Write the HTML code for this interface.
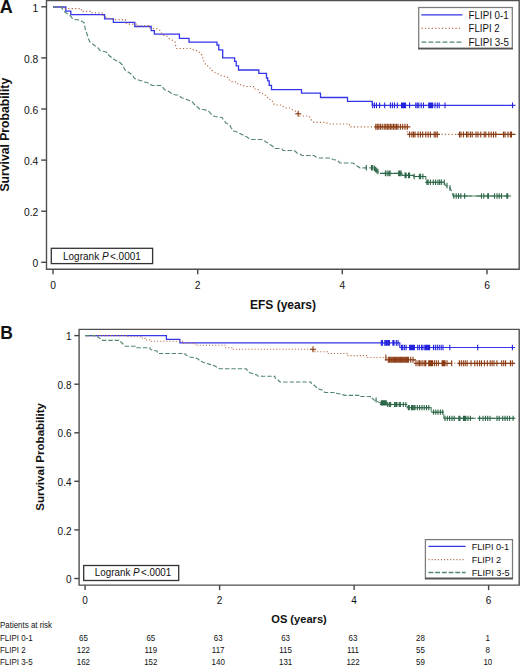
<!DOCTYPE html>
<html><head><meta charset="utf-8"><style>
html,body{margin:0;padding:0;background:#fff;}
body{width:520px;height:666px;overflow:hidden;}
svg{display:block;font-family:"Liberation Sans", sans-serif;}
text{fill:#111;}
</style></head><body>
<svg width="520" height="666" viewBox="0 0 520 666">
<path d="M46.5 269.3V0.5H519.2V269.3Z" fill="none" stroke="#505050" stroke-width="1.4"/>
<line x1="41.2" y1="6.8" x2="46.5" y2="6.8" stroke="#444" stroke-width="1.4" />
<text x="38.3" y="11.8" font-size="10.3" text-anchor="end" font-weight="normal" >1</text>
<line x1="41.2" y1="57.9" x2="46.5" y2="57.9" stroke="#444" stroke-width="1.4" />
<text x="38.3" y="62.9" font-size="10.3" text-anchor="end" font-weight="normal" >0.8</text>
<line x1="41.2" y1="109.0" x2="46.5" y2="109.0" stroke="#444" stroke-width="1.4" />
<text x="38.3" y="114.0" font-size="10.3" text-anchor="end" font-weight="normal" >0.6</text>
<line x1="41.2" y1="160.1" x2="46.5" y2="160.1" stroke="#444" stroke-width="1.4" />
<text x="38.3" y="165.1" font-size="10.3" text-anchor="end" font-weight="normal" >0.4</text>
<line x1="41.2" y1="211.2" x2="46.5" y2="211.2" stroke="#444" stroke-width="1.4" />
<text x="38.3" y="216.2" font-size="10.3" text-anchor="end" font-weight="normal" >0.2</text>
<line x1="41.2" y1="262.3" x2="46.5" y2="262.3" stroke="#444" stroke-width="1.4" />
<text x="38.3" y="267.3" font-size="10.3" text-anchor="end" font-weight="normal" >0</text>
<line x1="53.0" y1="269.3" x2="53.0" y2="274.3" stroke="#444" stroke-width="1.4" />
<text x="53.0" y="289" font-size="10.3" text-anchor="middle" font-weight="normal" >0</text>
<line x1="197.7" y1="269.3" x2="197.7" y2="274.3" stroke="#444" stroke-width="1.4" />
<text x="197.7" y="289" font-size="10.3" text-anchor="middle" font-weight="normal" >2</text>
<line x1="342.3" y1="269.3" x2="342.3" y2="274.3" stroke="#444" stroke-width="1.4" />
<text x="342.3" y="289" font-size="10.3" text-anchor="middle" font-weight="normal" >4</text>
<line x1="487.0" y1="269.3" x2="487.0" y2="274.3" stroke="#444" stroke-width="1.4" />
<text x="487.0" y="289" font-size="10.3" text-anchor="middle" font-weight="normal" >6</text>
<text x="283" y="309.3" font-size="12" text-anchor="middle" font-weight="bold" >EFS (years)</text>
<text transform="translate(8.5 134.7) rotate(-90)" font-size="12.2" font-weight="bold" text-anchor="middle">Survival Probability</text>
<text x="-0.3" y="12.8" font-size="18" text-anchor="start" font-weight="bold" >A</text>
<rect x="51.3" y="248.3" width="101.3" height="15.3" fill="#fff" stroke="#333" stroke-width="1.3"/>
<text x="63" y="259.6" font-size="10">Logrank <tspan font-style="italic">P</tspan><tspan dx="1.4">&lt;.0001</tspan></text>
<rect x="418.7" y="7.5" width="93.6" height="40.9" fill="#fff" stroke="#7a7a7a" stroke-width="1.25"/>
<path d="M418.2 48.6H512.9" stroke="#555" stroke-width="1.8"/>
<path d="M421.3 14.8H462.5" stroke="#3535ea" stroke-width="1.3" fill="none"/>
<path d="M421.5 28.4H462" stroke="#b46e48" stroke-width="1.2" stroke-dasharray="1.2 2.2" fill="none"/>
<path d="M421.5 42.1H462" stroke="#52866f" stroke-width="1.4" stroke-dasharray="4.9 2.1" fill="none"/>
<text x="468.6" y="18.8" font-size="10.2" text-anchor="start" font-weight="normal" textLength="40" lengthAdjust="spacingAndGlyphs">FLIPI 0-1</text>
<text x="468.6" y="32.3" font-size="10.2" text-anchor="start" font-weight="normal" textLength="31" lengthAdjust="spacingAndGlyphs">FLIPI 2</text>
<text x="468.6" y="45.7" font-size="10.2" text-anchor="start" font-weight="normal" textLength="40.5" lengthAdjust="spacingAndGlyphs">FLIPI 3-5</text>
<path d="M53 7H65.8V11.1H70.8V14.6H104.6V18.8H113.4V22.3H134.8V26.5H151.2V30.6H154.4V34.1H179.4V38.3H189V42.1H217V45H218.8V49.8H222.7V57.9H234.6V61.3H236.2V65.8H238.5V70H258.8V73.4H266.5V78H267.7V80.8H269.2V85.4H271.5V89.6H301.5V93.2H320.5V97.5H347.5V101.3H372.2V105.3H515.5V105.3" stroke="#3535ea" stroke-width="1.3" fill="none"  />
<path d="M372.7 102.39999999999999V108.2M374.5 102.39999999999999V108.2M376.5 102.39999999999999V108.2M379.6 102.39999999999999V108.2M384.7 102.39999999999999V108.2M390.4 102.39999999999999V108.2M392.4 102.39999999999999V108.2M394.5 102.39999999999999V108.2M397.3 102.39999999999999V108.2M401.5 102.39999999999999V108.2M402.5 102.39999999999999V108.2M403.5 102.39999999999999V108.2M404.5 102.39999999999999V108.2M405.5 102.39999999999999V108.2M409.6 102.39999999999999V108.2M415.8 102.39999999999999V108.2M417.3 102.39999999999999V108.2M418.8 102.39999999999999V108.2M421.2 102.39999999999999V108.2M423.5 102.39999999999999V108.2M428.8 102.39999999999999V108.2M429.8 102.39999999999999V108.2M430.8 102.39999999999999V108.2M431.8 102.39999999999999V108.2M432.7 102.39999999999999V108.2M435 102.39999999999999V108.2M437.3 102.39999999999999V108.2M439.2 102.39999999999999V108.2M445 102.39999999999999V108.2M512.5 102.39999999999999V108.2" stroke="#2323dd" stroke-width="1.1" fill="none"/>
<path d="M53 7H65V8.7H81.5V11.3H90.3V12.8H103V15.4L106 17.2L113 19.7H125.4V22L127.3 24.2H137.9V25.9H148.5V26.8L150 28.2L157 28.8L159.5 30L161 31.7L162 34.4L164 35.5L167 36.2L168 38L171 39.5L173 40.5L175 42L175.5 45L176.5 48.5H191V49L194 50L196.5 50.5L199 52L201 53.5L202.5 56L203 60L205 63L206 65.5L208.5 66L210 68L212 70.5L215 72.5L218 73.7L220 75L222 76L226 76.5L228 77.5L229 79L230.5 81.5L237 82L238 84.5L242 85L245 86.5H253.5V86.5L254 89L257.5 89L259 90.5L260 93.5L263.5 93.5L265 95L267 96.5L268 99L271 99.5L272.5 101.5L273 103.5L275.5 105L282 105L283.5 107L286.5 108L290 108L291.5 109.5L294 110L297 112.5L298 113.6L300 116H309V116.3L310.5 118L311.5 120.5L314 122.3H326V122.3L328 124H349.5V124.2L349.5 126.8H407.3V126.8H407.3V134.4H515.5V134.4" stroke="#b46e48" stroke-width="1.2" fill="none" stroke-dasharray="1.2 2.2" />
<path d="M374.5 126.8H410.4" stroke="#8a3a12" stroke-width="1.2" fill="none"/>
<path d="M407.3 134.4H440" stroke="#8a3a12" stroke-width="1.2" fill="none"/>
<path d="M457.5 134.4H515.5" stroke="#8a3a12" stroke-width="1.2" fill="none"/>
<path d="M298.2 110.8V116.8" stroke="#8a3a12" stroke-width="1.1" fill="none"/>
<path d="M295.2 113.8H301.2" stroke="#8a3a12" stroke-width="1.1" fill="none"/>
<path d="M375.8 123.8V129.8M377.3 123.8V129.8M378.8 123.8V129.8M380.4 123.8V129.8M382.2 123.8V129.8M384.2 123.8V129.8M385.8 123.8V129.8M387.3 123.8V129.8M388.8 123.8V129.8M390.4 123.8V129.8M391.9 123.8V129.8M393.5 123.8V129.8M395 123.8V129.8M396.5 123.8V129.8M398 123.8V129.8M400.4 123.8V129.8M402.7 123.8V129.8M405 123.8V129.8M407.3 123.8V129.8" stroke="#8a3a12" stroke-width="1.1" fill="none"/>
<path d="M409.6 131.4V137.4M411.9 131.4V137.4M413.5 131.4V137.4M415 131.4V137.4M418.1 131.4V137.4M420.4 131.4V137.4M422.7 131.4V137.4M425.8 131.4V137.4M428.1 131.4V137.4M430.4 131.4V137.4M434.2 131.4V137.4M435.8 131.4V137.4M437.3 131.4V137.4M459.5 131.4V137.4M461 131.4V137.4M463.5 131.4V137.4M466.5 131.4V137.4M468 131.4V137.4M470.4 131.4V137.4M472.2 131.4V137.4M476 131.4V137.4M478 131.4V137.4M480.8 131.4V137.4M484.2 131.4V137.4M485.8 131.4V137.4M488.8 131.4V137.4M491.2 131.4V137.4M493.5 131.4V137.4M495.8 131.4V137.4M503.5 131.4V137.4M505 131.4V137.4M508 131.4V137.4M510.4 131.4V137.4M511.5 131.4V137.4" stroke="#8a3a12" stroke-width="1.1" fill="none"/>
<path d="M53 7H61V7L62 8.5L63.5 10L65 12L67 13.5L69 14.5L70.5 16L72 18L74 19.5L77 19.8L80 20L82 21.5L84 22.5L84.5 25L85 27.5L85.5 30.5L86.5 32.5L87.5 35.5L88 38L89 40L90 42L92 43.5L94 45L96 46.5L98 48L100 50.5L104 51.5L106 52L108 53.5L109 55.5L111 57L113 58.5L115 60L117 61L119 62L120.5 63L122 64.5L123.5 66L124 68L125 70L127 71.5L129 72.5L131 74L133 76L134.5 78.5L137 79.5L140 80.5L142 81L144 82L147 82.5L150 84L152 85.5L156 85.5L161 85.5L162 86.5L164 89L166 90.5L169 91.5L171 93L174 94.5L176 95L178 95L180 96.5L182 98L185 98.5L188 100L191 101.5L192.5 102L194 104L196 106L198 107.5L200 109.5L204 109.5L207 110.5L209.5 112L211 114L213 115.5L215 116.5L218 117L222 117.5L223 119L224.5 121L226 123L228 124L230 125.5L231 127.5L232 129L233 131L236 131.5L238 132.5L241 134L244 135.5L247 137L249 138.5L251 139.5L256 139.5L262 139.5L264 140.5L266 142L268 143L270 144.5L273 146.5L275 148.5L280 148.5L282 149L283 150.5L289 150.5L294 150.5L295 151L297 153L300 154L302 155.5L308 155.5L314 155.5L316 157L318 158L325 158L331 158L333 159.5L336 160L338 161L340 163L347 163L353 163L355 164.5L357 166L360 167.8L366 167.8L373 167.8L374.4 168.5L375.6 169.5L376.7 170.5L377.9 171.5L380 173.4L386 173.4H402V173.4L402 175.4H413.6V175.4L413.6 176.5H425.8V176.5L425.8 182.3H444.6V182.3L445 185L448 186.5L450 188L451 190L452 192L453 196H510.8V196" stroke="#52866f" stroke-width="1.15" fill="none" stroke-dasharray="4.6 2.1" />
<path d="M366.3 165.0V170.60000000000002M371.5 165.0V170.60000000000002M372.7 165.0V170.60000000000002" stroke="#2d6647" stroke-width="1.1" fill="none"/>
<path d="M374.4 165.7V171.3" stroke="#2d6647" stroke-width="1.1" fill="none"/>
<path d="M375.6 166.7V172.3" stroke="#2d6647" stroke-width="1.1" fill="none"/>
<path d="M376.7 167.7V173.3" stroke="#2d6647" stroke-width="1.1" fill="none"/>
<path d="M377.9 168.7V174.3" stroke="#2d6647" stroke-width="1.1" fill="none"/>
<path d="M385.4 170.6V176.20000000000002M387.1 170.6V176.20000000000002M388.8 170.6V176.20000000000002M390 170.6V176.20000000000002M398.7 170.6V176.20000000000002M399.8 170.6V176.20000000000002M401 170.6V176.20000000000002" stroke="#2d6647" stroke-width="1.1" fill="none"/>
<path d="M405 172.6V178.20000000000002M406.1 172.6V178.20000000000002M408.5 172.6V178.20000000000002M409.6 172.6V178.20000000000002" stroke="#2d6647" stroke-width="1.1" fill="none"/>
<path d="M414.2 173.7V179.3M419.4 173.7V179.3M420.6 173.7V179.3M422.9 173.7V179.3" stroke="#2d6647" stroke-width="1.1" fill="none"/>
<path d="M426.9 179.5V185.10000000000002M428.1 179.5V185.10000000000002M430.4 179.5V185.10000000000002M433.3 179.5V185.10000000000002M435.6 179.5V185.10000000000002M437.9 179.5V185.10000000000002M439.6 179.5V185.10000000000002M441.3 179.5V185.10000000000002M444.2 179.5V185.10000000000002" stroke="#2d6647" stroke-width="1.1" fill="none"/>
<path d="M447 182.7V188.3" stroke="#2d6647" stroke-width="1.1" fill="none"/>
<path d="M450 185.2V190.8" stroke="#2d6647" stroke-width="1.1" fill="none"/>
<path d="M453.8 193.2V198.8M456.2 193.2V198.8M458.5 193.2V198.8M460.8 193.2V198.8M464.6 193.2V198.8M481.5 193.2V198.8M483.8 193.2V198.8M487.7 193.2V198.8M488.5 193.2V198.8M494.6 193.2V198.8M497 193.2V198.8M499.2 193.2V198.8M501.5 193.2V198.8M506.9 193.2V198.8M507.7 193.2V198.8" stroke="#2d6647" stroke-width="1.1" fill="none"/>
<path d="M380 173.4H402" stroke="#2d6647" stroke-width="1.1" fill="none"/>
<path d="M402 175.4H413.6" stroke="#2d6647" stroke-width="1.1" fill="none"/>
<path d="M413.6 176.5H425.8" stroke="#2d6647" stroke-width="1.1" fill="none"/>
<path d="M425.8 182.3H444.6" stroke="#2d6647" stroke-width="1.1" fill="none"/>
<path d="M453 196H471.5" stroke="#2d6647" stroke-width="1.1" fill="none"/>
<path d="M474.6 196H510.8" stroke="#2d6647" stroke-width="1.1" fill="none"/>
<path d="M79.1 585.1V329.4H519.2V585.1Z" fill="none" stroke="#505050" stroke-width="1.4"/>
<line x1="74.3" y1="335.6" x2="79.1" y2="335.6" stroke="#444" stroke-width="1.4" />
<text x="71.5" y="340.20000000000005" font-size="10" text-anchor="end" font-weight="normal" >1</text>
<line x1="74.3" y1="384.2" x2="79.1" y2="384.2" stroke="#444" stroke-width="1.4" />
<text x="71.5" y="388.8" font-size="10" text-anchor="end" font-weight="normal" >0.8</text>
<line x1="74.3" y1="432.8" x2="79.1" y2="432.8" stroke="#444" stroke-width="1.4" />
<text x="71.5" y="437.40000000000003" font-size="10" text-anchor="end" font-weight="normal" >0.6</text>
<line x1="74.3" y1="481.3" x2="79.1" y2="481.3" stroke="#444" stroke-width="1.4" />
<text x="71.5" y="485.90000000000003" font-size="10" text-anchor="end" font-weight="normal" >0.4</text>
<line x1="74.3" y1="529.9" x2="79.1" y2="529.9" stroke="#444" stroke-width="1.4" />
<text x="71.5" y="534.5" font-size="10" text-anchor="end" font-weight="normal" >0.2</text>
<line x1="74.3" y1="578.5" x2="79.1" y2="578.5" stroke="#444" stroke-width="1.4" />
<text x="71.5" y="583.1" font-size="10" text-anchor="end" font-weight="normal" >0</text>
<line x1="85.1" y1="585.1" x2="85.1" y2="590.1" stroke="#444" stroke-width="1.4" />
<text x="85.1" y="604" font-size="10" text-anchor="middle" font-weight="normal" >0</text>
<line x1="219.6" y1="585.1" x2="219.6" y2="590.1" stroke="#444" stroke-width="1.4" />
<text x="219.6" y="604" font-size="10" text-anchor="middle" font-weight="normal" >2</text>
<line x1="354.1" y1="585.1" x2="354.1" y2="590.1" stroke="#444" stroke-width="1.4" />
<text x="354.1" y="604" font-size="10" text-anchor="middle" font-weight="normal" >4</text>
<line x1="488.6" y1="585.1" x2="488.6" y2="590.1" stroke="#444" stroke-width="1.4" />
<text x="488.6" y="604" font-size="10" text-anchor="middle" font-weight="normal" >6</text>
<text x="299" y="623.4" font-size="11.1" text-anchor="middle" font-weight="bold" >OS (years)</text>
<text transform="translate(43.8 456.9) rotate(-90)" font-size="11.55" font-weight="bold" text-anchor="middle">Survival Probability</text>
<text x="0.3" y="338.8" font-size="17.5" text-anchor="start" font-weight="bold" >B</text>
<rect x="83.7" y="565.5" width="95" height="15" fill="#fff" stroke="#333" stroke-width="1.3"/>
<text x="94.8" y="576.3" font-size="10" textLength="76.5" lengthAdjust="spacingAndGlyphs">Logrank <tspan font-style="italic">P</tspan><tspan dx="1.4">&lt;.0001</tspan></text>
<rect x="425.4" y="539.6" width="87.1" height="38.6" fill="#fff" stroke="#7a7a7a" stroke-width="1.25"/>
<path d="M424.9 578.6H513" stroke="#555" stroke-width="1.9"/>
<path d="M428.5 546.4H465.6" stroke="#3535ea" stroke-width="1.2" fill="none"/>
<path d="M428.5 559.6H465.6" stroke="#b46e48" stroke-width="1.05" stroke-dasharray="1.1 2.0" fill="none"/>
<path d="M428.5 572.5H465.6" stroke="#52866f" stroke-width="1.3" stroke-dasharray="4.9 1.8" fill="none"/>
<text x="471.7" y="550.4" font-size="9.7" text-anchor="start" font-weight="normal" textLength="37.5" lengthAdjust="spacingAndGlyphs">FLIPI 0-1</text>
<text x="471.7" y="563.1" font-size="9.7" text-anchor="start" font-weight="normal" textLength="29.4" lengthAdjust="spacingAndGlyphs">FLIPI 2</text>
<text x="471.7" y="575.9" font-size="9.7" text-anchor="start" font-weight="normal" textLength="38" lengthAdjust="spacingAndGlyphs">FLIPI 3-5</text>
<path d="M85.3 335.6H166.4V339.4H179.9V342.9H399.8V347.5H515.2V347.5" stroke="#3535ea" stroke-width="1.2" fill="none"  />
<path d="M381.3 340.09999999999997V345.7M382.5 340.09999999999997V345.7M384.8 340.09999999999997V345.7M386 340.09999999999997V345.7M387.1 340.09999999999997V345.7M388.3 340.09999999999997V345.7M389.4 340.09999999999997V345.7M392.9 340.09999999999997V345.7M394 340.09999999999997V345.7M396.3 340.09999999999997V345.7M398 340.09999999999997V345.7" stroke="#2323dd" stroke-width="1.1" fill="none"/>
<path d="M401.5 344.7V350.3M402.7 344.7V350.3M404.4 344.7V350.3M406.1 344.7V350.3M409.6 344.7V350.3M410.6 344.7V350.3M411.6 344.7V350.3M412.6 344.7V350.3M413.6 344.7V350.3M414.4 344.7V350.3M417.7 344.7V350.3M419.4 344.7V350.3M421.5 344.7V350.3M422.9 344.7V350.3M424.8 344.7V350.3M425.8 344.7V350.3M426.8 344.7V350.3M427.8 344.7V350.3M428.8 344.7V350.3M429.6 344.7V350.3M433.5 344.7V350.3M435.4 344.7V350.3M437.3 344.7V350.3M439.2 344.7V350.3M441.2 344.7V350.3M443 344.7V350.3M449.8 344.7V350.3M477.7 344.7V350.3M512.4 344.7V350.3" stroke="#2323dd" stroke-width="1.1" fill="none"/>
<path d="M85.3 335.6H127V336.8H140.8V338H145V340H150V341.3H182.7V343.3H195.2V345.2H225V347.7H232.7V349.3H313V350.5H315V351.7H327.5V353.5H347.3V355.6H367.5V357.5H386.5V359.8H414.2V363.3H515.2V363.3" stroke="#b46e48" stroke-width="1.05" fill="none" stroke-dasharray="1.1 2.0" />
<path d="M313 346.3V352.3" stroke="#8a3a12" stroke-width="1.1" fill="none"/>
<path d="M310 349.3H316" stroke="#8a3a12" stroke-width="1.1" fill="none"/>
<path d="M384.8 359.8H416" stroke="#8a3a12" stroke-width="1.2" fill="none"/>
<path d="M414.2 363.3H452" stroke="#8a3a12" stroke-width="1.2" fill="none"/>
<path d="M457.5 363.3H515.2" stroke="#8a3a12" stroke-width="1.2" fill="none"/>
<path d="M385.8 354.5V360.5" stroke="#8a3a12" stroke-width="1.1" fill="none"/>
<path d="M388.3 356.8V362.8M389.5 356.8V362.8M390.8 356.8V362.8M392 356.8V362.8M393.2 356.8V362.8M394.4 356.8V362.8M395.6 356.8V362.8M396.8 356.8V362.8M398 356.8V362.8M399.2 356.8V362.8M400.4 356.8V362.8M401.6 356.8V362.8M402.8 356.8V362.8M404 356.8V362.8M405.2 356.8V362.8M406.4 356.8V362.8M407.6 356.8V362.8M408.4 356.8V362.8M410.7 356.8V362.8M413 356.8V362.8" stroke="#8a3a12" stroke-width="1.1" fill="none"/>
<path d="M416 360.3V366.3M418 360.3V366.3M419.5 360.3V366.3M421 360.3V366.3M422.9 360.3V366.3M424.8 360.3V366.3M425.8 360.3V366.3M428.7 360.3V366.3M429.7 360.3V366.3M430.7 360.3V366.3M431.6 360.3V366.3M432.5 360.3V366.3M434.4 360.3V366.3M436.3 360.3V366.3M438.3 360.3V366.3M442.1 360.3V366.3M443 360.3V366.3M444 360.3V366.3M445 360.3V366.3M447 360.3V366.3M451.7 360.3V366.3M459.4 360.3V366.3M461.3 360.3V366.3M463.3 360.3V366.3M465.2 360.3V366.3M467.1 360.3V366.3M471 360.3V366.3M474.8 360.3V366.3M477.3 360.3V366.3M479.6 360.3V366.3M481.5 360.3V366.3M484.4 360.3V366.3M487.3 360.3V366.3M490.2 360.3V366.3M492.1 360.3V366.3M494 360.3V366.3M496.9 360.3V366.3M501.7 360.3V366.3M503.7 360.3V366.3M505.6 360.3V366.3M510.4 360.3V366.3M512.3 360.3V366.3" stroke="#8a3a12" stroke-width="1.1" fill="none"/>
<path d="M85.3 335.6H97.7V337L100 338.5L102 340.4H120V341L122 343L124 345L125 346.2H135V347L137 347.8H150V349L152 350L157 351L158 353.5H185V354.5L190 357L196 358L198 359L200 361L205 363L210 364.4L215 366L218 368L220 368.8H246V369L248 371L250 372.7L257 375L258 376.2H275V378L278 380L280 382H311V383L314 385L316 387L318 388.7L322 390L325 392.5H335V393L340 394L345 395.4H358.8V396.5H370.4V397.7L372 398L374 400L377 401L380 402.9L387 404.5H407.2V407.7H431.2V412.2H443.8V418.3H515.4V418.3" stroke="#52866f" stroke-width="1.1" fill="none" stroke-dasharray="4.4 2.0" />
<path d="M376.1 397.4V402.6" stroke="#2d6647" stroke-width="1.1" fill="none"/>
<path d="M381.3 400.29999999999995V405.5M382.3 400.29999999999995V405.5M383.3 400.29999999999995V405.5M384.3 400.29999999999995V405.5M385.3 400.29999999999995V405.5M386.3 400.29999999999995V405.5" stroke="#2d6647" stroke-width="1.1" fill="none"/>
<path d="M387.7 401.9V407.1M389.4 401.9V407.1M390.6 401.9V407.1M394.6 401.9V407.1M395.8 401.9V407.1M396.9 401.9V407.1M399.2 401.9V407.1M400.4 401.9V407.1M403.3 401.9V407.1M405.8 401.9V407.1" stroke="#2d6647" stroke-width="1.1" fill="none"/>
<path d="M408.4 405.09999999999997V410.3M409.2 405.09999999999997V410.3M411.5 405.09999999999997V410.3M412.5 405.09999999999997V410.3M413.8 405.09999999999997V410.3M415 405.09999999999997V410.3M417.3 405.09999999999997V410.3M419.6 405.09999999999997V410.3M422 405.09999999999997V410.3M424.2 405.09999999999997V410.3M426.5 405.09999999999997V410.3M428.8 405.09999999999997V410.3" stroke="#2d6647" stroke-width="1.1" fill="none"/>
<path d="M433.5 409.59999999999997V414.8M435.8 409.59999999999997V414.8M438 409.59999999999997V414.8M440.4 409.59999999999997V414.8M442.7 409.59999999999997V414.8" stroke="#2d6647" stroke-width="1.1" fill="none"/>
<path d="M445 415.7V420.90000000000003M447.3 415.7V420.90000000000003M449.6 415.7V420.90000000000003M452 415.7V420.90000000000003M454.2 415.7V420.90000000000003M458.8 415.7V420.90000000000003M460 415.7V420.90000000000003M463.5 415.7V420.90000000000003M464.3 415.7V420.90000000000003M465 415.7V420.90000000000003M465.8 415.7V420.90000000000003M468 415.7V420.90000000000003M470.4 415.7V420.90000000000003M479.6 415.7V420.90000000000003M483 415.7V420.90000000000003M485.4 415.7V420.90000000000003M487.7 415.7V420.90000000000003M490 415.7V420.90000000000003M497 415.7V420.90000000000003M499.2 415.7V420.90000000000003M502.7 415.7V420.90000000000003M505 415.7V420.90000000000003M507.3 415.7V420.90000000000003M509.6 415.7V420.90000000000003M513.1 415.7V420.90000000000003" stroke="#2d6647" stroke-width="1.1" fill="none"/>
<path d="M380 404.5H407.2" stroke="#2d6647" stroke-width="1.1" fill="none"/>
<path d="M407.2 407.7H431.2" stroke="#2d6647" stroke-width="1.1" fill="none"/>
<path d="M431.2 412.2H443.8" stroke="#2d6647" stroke-width="1.1" fill="none"/>
<path d="M443.8 418.3H473.8" stroke="#2d6647" stroke-width="1.1" fill="none"/>
<path d="M477.3 418.3H515.4" stroke="#2d6647" stroke-width="1.1" fill="none"/>
<text transform="translate(0 627.8) scale(0.925 1)" font-size="8.6" text-anchor="start" font-weight="normal">Patients at risk</text>
<text transform="translate(0 640.7) scale(0.925 1)" font-size="8.6" text-anchor="start" font-weight="normal">FLIPI 0-1</text>
<text transform="translate(83.4 640.7) scale(0.925 1)" font-size="8.6" text-anchor="middle" font-weight="normal">65</text>
<text transform="translate(150.8 640.7) scale(0.925 1)" font-size="8.6" text-anchor="middle" font-weight="normal">65</text>
<text transform="translate(218.2 640.7) scale(0.925 1)" font-size="8.6" text-anchor="middle" font-weight="normal">63</text>
<text transform="translate(285.6 640.7) scale(0.925 1)" font-size="8.6" text-anchor="middle" font-weight="normal">63</text>
<text transform="translate(353.0 640.7) scale(0.925 1)" font-size="8.6" text-anchor="middle" font-weight="normal">63</text>
<text transform="translate(420.4 640.7) scale(0.925 1)" font-size="8.6" text-anchor="middle" font-weight="normal">28</text>
<text transform="translate(487.8 640.7) scale(0.925 1)" font-size="8.6" text-anchor="middle" font-weight="normal">1</text>
<text transform="translate(0 652.9) scale(0.925 1)" font-size="8.6" text-anchor="start" font-weight="normal">FLIPI 2</text>
<text transform="translate(83.4 652.9) scale(0.925 1)" font-size="8.6" text-anchor="middle" font-weight="normal">122</text>
<text transform="translate(150.8 652.9) scale(0.925 1)" font-size="8.6" text-anchor="middle" font-weight="normal">119</text>
<text transform="translate(218.2 652.9) scale(0.925 1)" font-size="8.6" text-anchor="middle" font-weight="normal">117</text>
<text transform="translate(285.6 652.9) scale(0.925 1)" font-size="8.6" text-anchor="middle" font-weight="normal">115</text>
<text transform="translate(353.0 652.9) scale(0.925 1)" font-size="8.6" text-anchor="middle" font-weight="normal">111</text>
<text transform="translate(420.4 652.9) scale(0.925 1)" font-size="8.6" text-anchor="middle" font-weight="normal">55</text>
<text transform="translate(487.8 652.9) scale(0.925 1)" font-size="8.6" text-anchor="middle" font-weight="normal">8</text>
<text transform="translate(0 665.1) scale(0.925 1)" font-size="8.6" text-anchor="start" font-weight="normal">FLIPI 3-5</text>
<text transform="translate(83.4 665.1) scale(0.925 1)" font-size="8.6" text-anchor="middle" font-weight="normal">162</text>
<text transform="translate(150.8 665.1) scale(0.925 1)" font-size="8.6" text-anchor="middle" font-weight="normal">152</text>
<text transform="translate(218.2 665.1) scale(0.925 1)" font-size="8.6" text-anchor="middle" font-weight="normal">140</text>
<text transform="translate(285.6 665.1) scale(0.925 1)" font-size="8.6" text-anchor="middle" font-weight="normal">131</text>
<text transform="translate(353.0 665.1) scale(0.925 1)" font-size="8.6" text-anchor="middle" font-weight="normal">122</text>
<text transform="translate(420.4 665.1) scale(0.925 1)" font-size="8.6" text-anchor="middle" font-weight="normal">59</text>
<text transform="translate(487.8 665.1) scale(0.925 1)" font-size="8.6" text-anchor="middle" font-weight="normal">10</text>
</svg>
</body></html>
